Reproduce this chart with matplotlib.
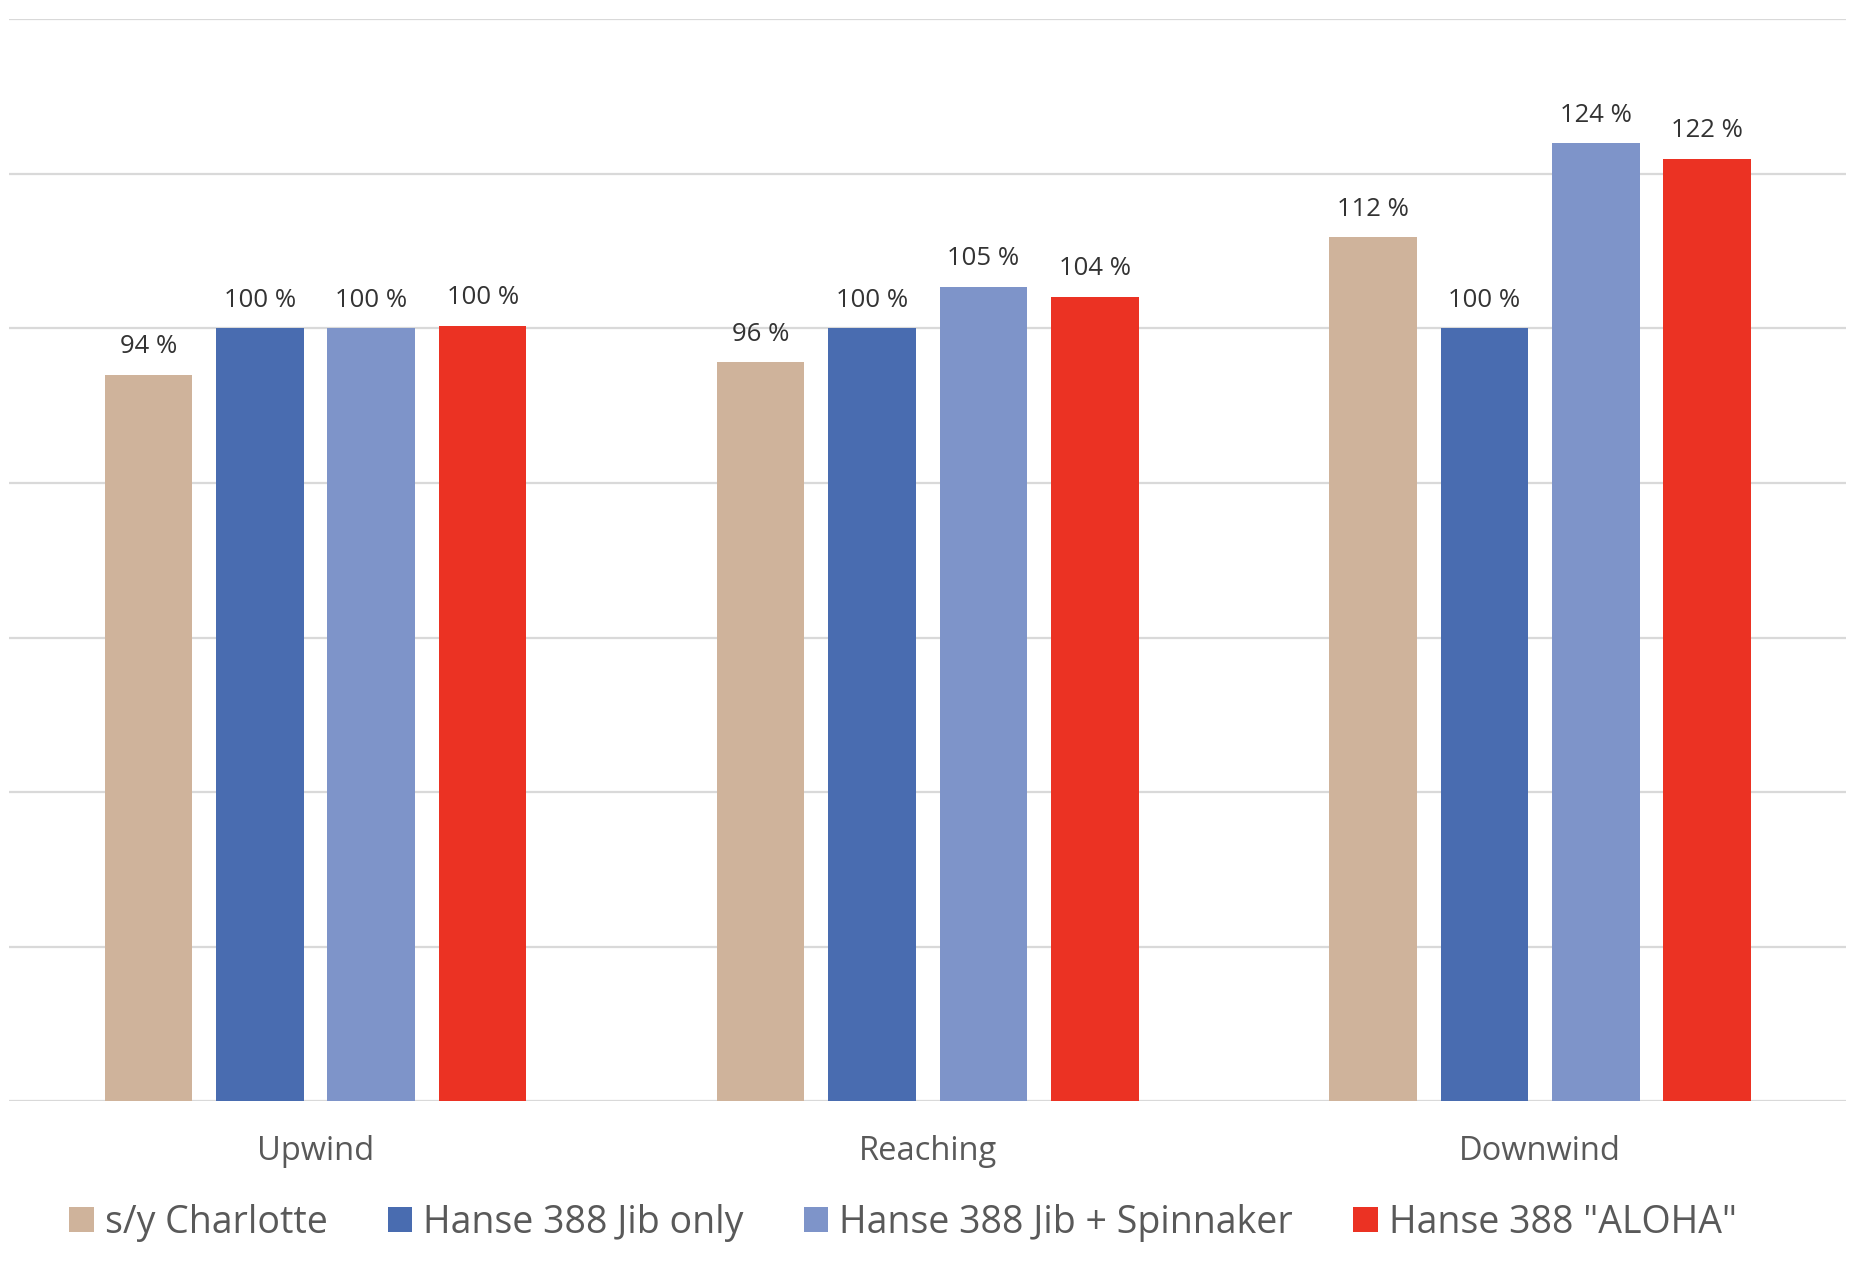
import numpy as np
import matplotlib
matplotlib.use("Agg")
import matplotlib.pyplot as plt

plt.rcParams['font.family'] = ['Open Sans', 'DejaVu Sans']

categories = ["Upwind", "Reaching", "Downwind"]
series = ["s/y Charlotte", "Hanse 388 Jib only", "Hanse 388 Jib + Spinnaker", 'Hanse 388 "ALOHA"']
charlotte = [94.0, 95.6, 111.8]
jib_only = [100.0, 100.0, 100.0]
jib_spinnaker = [100.0, 105.4, 123.9]
aloha = [100.3, 104.1, 121.9]
colors = ["#CFB39B", "#496CB0", "#7E94C9", "#EB3223"]

values = [charlotte, jib_only, jib_spinnaker, aloha]

fig = plt.figure(figsize=(18.62, 12.66), dpi=100)
ax = fig.add_axes([0.005, 0.130, 0.9865, 0.855])

x = np.arange(len(categories))
pitch = 0.182
width = 0.143
for i, (name, vals, c) in enumerate(zip(series, values, colors)):
    pos = x + (i - 1.5) * pitch
    ax.bar(pos, vals, width=width, color=c, label=name, zorder=3)
    for p, v in zip(pos, vals):
        ax.text(p, v + 2.0, f"{v:.0f} %", ha="center", va="bottom",
                fontsize=18.5, color="#333333")

ax.set_xlim(-0.5, 2.5)
ax.set_ylim(0, 140)
ax.set_yticks(np.arange(0, 141, 20))
ax.set_yticklabels([])
ax.tick_params(axis="both", length=0)
ax.grid(axis="y", color="#D9D9D9", lw=1.6, zorder=0)
for s in ax.spines.values():
    s.set_visible(False)
ax.set_xticks(x)
ax.set_xticklabels(categories, fontsize=23.5, color="#595959")
ax.tick_params(axis="x", pad=24)

fig.legend(loc="center", bbox_to_anchor=(0.485, 0.034), ncol=4, frameon=False,
           fontsize=27, handlelength=0.65, handleheight=0.65, handletextpad=0.3,
           columnspacing=1.6, labelcolor="#595959")

fig.savefig("out.png", dpi=100, facecolor="white")
